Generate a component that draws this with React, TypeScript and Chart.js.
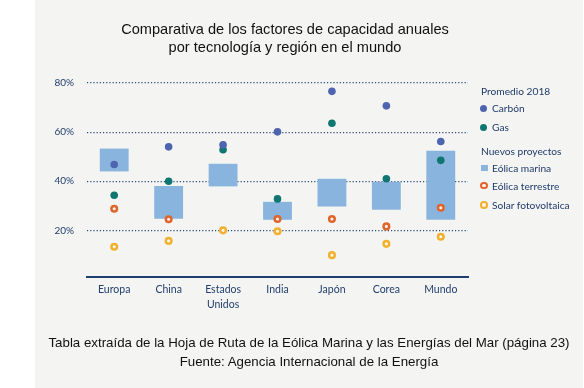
import React, { useEffect, useRef } from "react";
import { Chart, registerables } from "chart.js";

Chart.register(...registerables);

const categories: (string | string[])[] = ["Europa", "China", ["Estados", "Unidos"], "India", "Japón", "Corea", "Mundo"];
const eolicaMarina: [number, number][] = [
  [44, 53.3],
  [24.7, 38.1],
  [37.9, 47.1],
  [24.3, 31.6],
  [29.7, 41],
  [28.4, 39.8],
  [24.3, 52.4],
];
const carbon = [46.8, 54, 54.8, 60.1, 76.6, 70.7, 56.2];
const gas = [34.3, 40, 52.8, 32.8, 63.6, 41, 48.5];
const eolicaTerrestre = [28.8, 24.5, null, 24.6, 24.6, 21.6, 29.2];
const solar = [13.3, 15.7, 20, 19.6, 9.9, 14.5, 17.4];
const yTicks = [20, 40, 60, 80];

const NAVY = "#23406e";
const C_CARBON = "#4f64ae";
const C_GAS = "#0f7672";
const C_MARINA = "#89b4dd";
const C_TERRESTRE = "#e0652b";
const C_SOLAR = "#f1b12e";

export default function App() {
  const ref = useRef<HTMLCanvasElement | null>(null);

  useEffect(() => {
    if (!ref.current) return;
    const chart = new Chart(ref.current, {
      type: "bar",
      data: {
        labels: categories as any,
        datasets: [
          {
            type: "line",
            label: "Carbón",
            data: carbon,
            showLine: false,
            pointRadius: 3.8,
            pointBorderWidth: 0,
            pointBackgroundColor: C_CARBON,
            borderColor: C_CARBON,
            backgroundColor: C_CARBON,
            order: 1,
          } as any,
          {
            type: "line",
            label: "Gas",
            data: gas,
            showLine: false,
            pointRadius: 3.8,
            pointBorderWidth: 0,
            pointBackgroundColor: C_GAS,
            borderColor: C_GAS,
            backgroundColor: C_GAS,
            order: 2,
          } as any,
          {
            type: "line",
            label: "Eólica terrestre",
            data: eolicaTerrestre,
            showLine: false,
            pointRadius: 2.8,
            pointBorderWidth: 2.5,
            pointBorderColor: C_TERRESTRE,
            pointBackgroundColor: "#fbf3ec",
            borderColor: C_TERRESTRE,
            order: 3,
          } as any,
          {
            type: "line",
            label: "Solar fotovoltaica",
            data: solar,
            showLine: false,
            pointRadius: 2.8,
            pointBorderWidth: 2.5,
            pointBorderColor: C_SOLAR,
            pointBackgroundColor: "#fbf6ea",
            borderColor: C_SOLAR,
            order: 4,
          } as any,
          {
            type: "bar",
            label: "Eólica marina",
            data: eolicaMarina as any,
            backgroundColor: C_MARINA,
            borderWidth: 0,
            barPercentage: 0.53,
            categoryPercentage: 1,
            order: 10,
          } as any,
        ],
      },
      options: {
        responsive: false,
        animation: false,
        layout: { padding: { left: 0, right: 116, top: 83, bottom: 0 } },
        plugins: { legend: { display: false }, tooltip: { enabled: false } },
        scales: {
          x: {
            grid: { display: false, drawTicks: false },
            border: { display: true, color: "#1f3f6e", width: 2 },
            ticks: {
              color: NAVY,
              font: { family: "Lato", size: 10.5, lineHeight: 1.35 },
              padding: 6,
              maxRotation: 0,
              autoSkip: false,
            },
            afterFit: (s: any) => {
              s.height = 111;
            },
          },
          y: {
            min: 1,
            max: 80,
            afterBuildTicks: (s: any) => {
              s.ticks = yTicks.map((v) => ({ value: v }));
            },
            grid: { color: "#2b4a7a", lineWidth: 1.2, drawTicks: false },
            border: { display: false, dash: [1.2, 2] },
            ticks: {
              color: NAVY,
              font: { family: "Lato", size: 10 },
              padding: 13,
              callback: (v: any) => v + "%",
            },
            afterFit: (s: any) => {
              s.width = 87;
            },
          },
        },
      },
    });
    return () => chart.destroy();
  }, []);

  const legendText: React.CSSProperties = {
    position: "absolute",
    fontFamily: "Lato",
    fontSize: 10.2,
    color: "#1f3b6b",
    lineHeight: "12px",
    whiteSpace: "nowrap",
  };
  const dot = (color: string, cy: number): React.CSSProperties => ({
    position: "absolute",
    left: 480,
    top: cy - 3.5,
    width: 7,
    height: 7,
    borderRadius: "50%",
    background: color,
  });
  const ring = (color: string, cy: number): React.CSSProperties => ({
    position: "absolute",
    left: 480,
    top: cy - 3.75,
    width: 7.5,
    height: 7.5,
    boxSizing: "border-box",
    borderRadius: "50%",
    border: `2.3px solid ${color}`,
    background: "#fbf3ec",
  });

  return (
    <div style={{ position: "fixed", left: 0, top: 0, width: 584, height: 388, background: "#ffffff", overflow: "hidden" }}>
      <div style={{ position: "absolute", left: 35, top: 0, width: 548, height: 388, background: "#f4f4f2" }} />
      <canvas ref={ref} width={584} height={388} style={{ position: "absolute", left: 0, top: 0 }} />
      <div
        style={{
          position: "absolute",
          left: 0,
          top: 20,
          width: 570,
          textAlign: "center",
          fontFamily: "'Liberation Sans', Arial, sans-serif",
          fontSize: 14.6,
          lineHeight: "18px",
          color: "#111",
        }}
      >
        Comparativa de los factores de capacidad anuales
        <br />
        por tecnología y región en el mundo
      </div>

      <div style={{ ...legendText, left: 481, top: 90.7 - 6 }}>Promedio 2018</div>
      <div style={dot(C_CARBON, 108.3)} />
      <div style={{ ...legendText, left: 492, top: 108.3 - 6 }}>Carbón</div>
      <div style={dot(C_GAS, 127.3)} />
      <div style={{ ...legendText, left: 492, top: 127.3 - 6 }}>Gas</div>
      <div style={{ ...legendText, left: 481, top: 150.7 - 6 }}>Nuevos proyectos</div>
      <div style={{ position: "absolute", left: 480.5, top: 164.7, width: 7, height: 6, background: C_MARINA }} />
      <div style={{ ...legendText, left: 492, top: 167.7 - 6 }}>Eólica marina</div>
      <div style={ring(C_TERRESTRE, 185.7)} />
      <div style={{ ...legendText, left: 492, top: 185.7 - 6 }}>Eólica terrestre</div>
      <div style={ring(C_SOLAR, 205)} />
      <div style={{ ...legendText, left: 492, top: 205 - 6 }}>Solar fotovoltaica</div>

      <div
        style={{
          position: "absolute",
          left: 35,
          top: 333,
          width: 548,
          textAlign: "center",
          fontFamily: "'Liberation Sans', Arial, sans-serif",
          fontSize: 13.3,
          lineHeight: "19px",
          color: "#111",
        }}
      >
        Tabla extraída de la Hoja de Ruta de la Eólica Marina y las Energías del Mar (página 23)
        <br />
        Fuente: Agencia Internacional de la Energía
      </div>
    </div>
  );
}
